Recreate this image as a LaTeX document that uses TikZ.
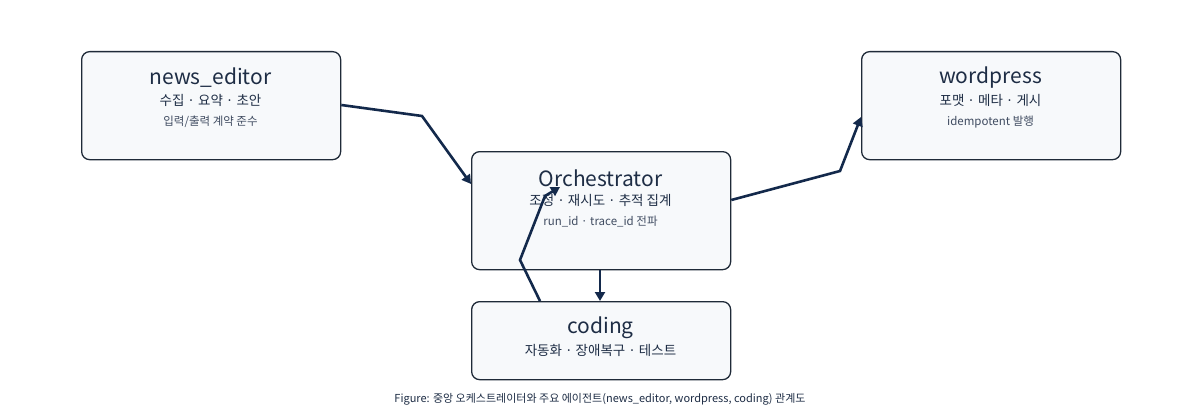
\documentclass[tikz,border=0pt]{standalone}
\usepackage{fontspec}
\setmainfont{Noto Sans CJK KR}
\usetikzlibrary{arrows.meta}
\definecolor{bd}{HTML}{1F2A38}
\definecolor{ar}{HTML}{13294B}
\definecolor{bg}{HTML}{F7F9FB}
\definecolor{tx}{HTML}{1E2D45}
\tikzset{
 box/.style={draw=bd,line width=1.3pt,fill=bg,rounded corners=8pt,anchor=north west,inner sep=0pt},
 conn/.style={draw=ar,line width=2.6pt,-{Triangle[length=9pt,width=10pt]}},
 t1/.style={text=tx,font=\fontsize{21}{22}\selectfont},
 t2/.style={text=tx,font=\fontsize{13.5}{15}\selectfont},
 t3/.style={text=tx!85,font=\fontsize{11.5}{13}\selectfont}
}
\begin{document}
\begin{tikzpicture}[x=1pt,y=-1pt]
\useasboundingbox (0,0) rectangle (1200,420);
\node[box,minimum width=259pt,minimum height=108pt] (ne) at (81,51) {};
\node[box,minimum width=259pt,minimum height=108pt] (wp) at (861,51) {};
\node[box,minimum width=259pt,minimum height=118pt] (or) at (471,151) {};
\node[box,minimum width=259pt,minimum height=78pt] (co) at (471,301) {};
\node[t1] (ne1) at (210.5,78) {news\_editor};
\node[t2] (ne2) at (210.5,100) {수집 · 요약 · 초안};
\node[t3] (ne3) at (210.5,122) {입력/출력 계약 준수};
\node[t1] (wp1) at (990.5,78) {wordpress};
\node[t2] (wp2) at (990.5,100) {포맷 · 메타 · 게시};
\node[t3] (wp3) at (990.5,122) {idempotent 발행};
\node[t1] (or1) at (600.5,178) {Orchestrator};
\node[t2] (or2) at (600.5,200) {조정 · 재시도 · 추적 집계};
\node[t3] (or3) at (600.5,222) {run\_id · trace\_id 전파};
\node[t1] (co1) at (600.5,328) {coding};
\node[t2] (co2) at (600.5,350) {자동화 · 장애복구 · 테스트};
\node[text=tx,font=\fontsize{11}{12}\selectfont] (cap) at (600,399) {Figure: 중앙 오케스트레이터와 주요 에이전트(news\_editor, wordpress, coding) 관계도};
\coordinate (a1) at (422,116);
\coordinate (a2) at (840,171);
\coordinate (b1) at (520,260);
\coordinate (b2) at (545,196);
\draw[conn] (ne.east |- 0,105) -- (a1) -- (or.west |- 0,184);
\draw[conn] (or.east |- 0,200) -- (a2) -- (wp.west |- 0,117);
\draw[conn] (or.south -| 600,0) -- (co.north -| 600,0);
\draw[conn] (co.north -| 540,0) -- (b1) -- (b2) -- (560,187);
\end{tikzpicture}
\end{document}
